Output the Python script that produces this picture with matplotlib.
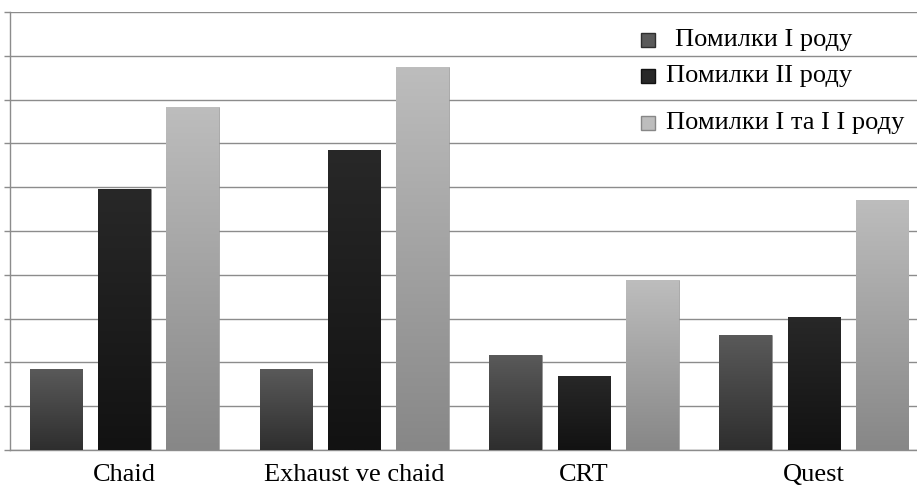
import numpy as np
import matplotlib
matplotlib.use("Agg")
import matplotlib.pyplot as plt
from matplotlib.colors import LinearSegmentedColormap
from matplotlib.patches import Rectangle

# Error rates per method
methods = ["Chaid", "Exhaust ve chaid", "CRT", "Quest"]
series_names = [" Помилки I роду", "Помилки II роду", "Помилки I та I I роду"]
type1_errors = [1.85, 1.85, 2.18, 2.63]
type2_errors = [5.96, 6.85, 1.70, 3.04]
total_errors = [7.83, 8.74, 3.87, 5.71]

# top / bottom colours of each gradient fill
gradients = [("#5a5a5a", "#2e2e2e"), ("#282828", "#121212"), ("#bdbdbd", "#878787")]

plt.rcParams["font.family"] = ["Liberation Serif", "DejaVu Serif"]

fig = plt.figure(figsize=(9.17, 4.87), dpi=100)
ax = fig.add_axes([10 / 917, 37 / 487, 1 - 10 / 917, 438 / 487])

x = np.arange(len(methods))
width = 0.23
pitch = 0.296
grad = np.linspace(1, 0, 256).reshape(-1, 1)

for i, vals in enumerate([type1_errors, type2_errors, total_errors]):
    offs = (i - 1) * pitch
    bars = ax.bar(x + offs, vals, width, color=gradients[i][1], zorder=3,
                  edgecolor="#9a9a9a", linewidth=0.4)
    cmap = LinearSegmentedColormap.from_list("g%d" % i, [gradients[i][1], gradients[i][0]])
    for b in bars:
        x0, y0 = b.get_x(), b.get_y()
        im = ax.imshow(grad, extent=[x0, x0 + b.get_width(), y0, y0 + b.get_height()],
                       aspect="auto", cmap=cmap, vmin=0, vmax=1, zorder=3.5)
        im.set_clip_path(b)

ax.set_xlim(-0.496, 3.448)
ax.set_ylim(0, 10)
ax.set_yticks(np.arange(0, 11))
ax.set_yticklabels([])
ax.yaxis.grid(True, color="#8c8c8c", linewidth=1.0, zorder=0)
ax.tick_params(axis="y", direction="out", length=4, color="#8c8c8c", width=1)
ax.tick_params(axis="x", length=0, pad=10, labelsize=19)
ax.set_xticks(x)
ax.set_xticklabels(methods)
for side in ["top", "right"]:
    ax.spines[side].set_visible(False)
for side in ["left", "bottom"]:
    ax.spines[side].set_color("#8c8c8c")
    ax.spines[side].set_linewidth(1.0)

# legend entries, drawn by hand over the gridlines
rows_y = [40, 76, 123]
text_x = [675, 666, 666]
for i, name in enumerate(series_names):
    yc = 1 - rows_y[i] / 487
    sq = Rectangle((641 / 917, yc - 7 / 487), 14 / 917, 14 / 487,
                   transform=fig.transFigure, facecolor=gradients[i][0],
                   edgecolor=gradients[i][1], linewidth=1)
    fig.patches.append(sq)
    fig.text(text_x[i] / 917, yc, name.strip(), fontsize=19, va="center", ha="left")

fig.savefig("out.png", dpi=100)
